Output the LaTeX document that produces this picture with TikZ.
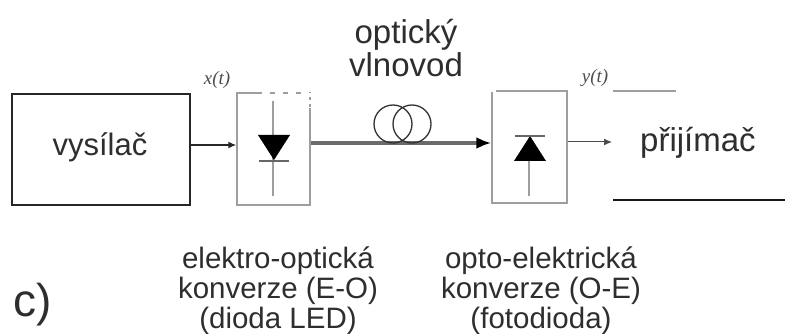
\documentclass[tikz,border=0pt]{standalone}
\usepackage{fontspec}
\setmainfont{Liberation Sans}
\newfontfamily\sigfont{Liberation Serif}
\usetikzlibrary{arrows.meta}
\definecolor{boxgray}{gray}{0.62}
\definecolor{fibgray}{gray}{0.42}
\definecolor{txt}{gray}{0.18}
\tikzset{x=1pt,y=-1pt,
 lbl/.style={text=txt,font=\fontsize{31}{33}\selectfont,align=center,inner sep=0pt},
 bigl/.style={text=txt,font=\fontsize{33}{33}\selectfont,align=center,inner sep=0pt},
 captext/.style={text=txt,font=\fontsize{29.5}{30}\selectfont,align=center,inner sep=0pt},
 sig/.style={text=black!70,font=\fontsize{19}{19}\sigfont\itshape,inner sep=0pt},
 blockbox/.style={draw=black!85,line width=1.6pt,minimum width=178pt,minimum height=111pt,inner sep=0pt},
 convbox/.style={draw=boxgray,line width=1.5pt,inner sep=0pt},
 arr/.style={-{Latex[length=8pt,width=7pt]}},
 fibarr/.style={-{Latex[length=15pt,width=12pt,black]}},
}
\begin{document}
\begin{tikzpicture}
\useasboundingbox (0,0) rectangle (785,334);
\node[blockbox] (tx) at (101,149.5) {};
\node[lbl] (txt) at (100,147) {vysílač};
\node[convbox,minimum width=73pt,minimum height=112pt] (eo) at (273.5,149) {};
\node[convbox,minimum width=75pt,minimum height=112pt] (oe) at (529.5,147) {};
\draw[white,line width=2pt,dash pattern=on 8pt off 5pt] (262,93) -- (312,93);
\draw[white,line width=2pt,dash pattern=on 4pt off 3pt] (310,93) -- (310,108);
\draw[white,line width=2pt] (490,91) -- (496,91);
\node[bigl] (rx) at (698,143) {přijímač};
\node[bigl] (fib) at (406,48) {optický\\vlnovod};
\node[sig] (xt) at (217,80) {x(t)};
\node[sig] (yt) at (595,78) {y(t)};
\node[captext] (c1) at (278,291) {elektro-optická\\konverze (E-O)\\(dioda LED)};
\node[captext] (c2) at (541,291) {opto-elektrická\\konverze (O-E)\\(fotodioda)};
\node[font=\fontsize{46}{46}\selectfont,text=txt,inner sep=0pt] (cc) at (33,305) {c)};
% connectors
\draw[arr,black!85,line width=1.3pt] (tx.east|-0,145) -- (eo.west|-0,145);
\draw[fibarr,fibgray,line width=3.2pt] (eo.east|-0,143) -- (oe.west|-0,143);
\coordinate (rxin) at (612,142);
\draw[arr,black!70,line width=1pt] (oe.east|-0,142) -- (rxin);
% fibre coil
\draw[black!80,line width=1.3pt] (393,124) circle (19) (412,124) circle (19);
% diodes
\draw[boxgray,line width=1.2pt] (273,101) -- (273,196);
\fill[black] (258,135) -- (290,135) -- (274,160) -- cycle;
\draw[black!60,line width=2pt] (259,161) -- (289,161);
\draw[boxgray,line width=1.2pt] (529,160) -- (529,196);
\fill[black] (514,161) -- (546,161) -- (530,136) -- cycle;
\draw[black!60,line width=1.2pt] (515,136) -- (545,136);
% receiver fragments
\coordinate (rt1) at (613,91); \coordinate (rt2) at (676,91);
\coordinate (rb1) at (613,200); \coordinate (rb2) at (785,200);
\draw[boxgray,line width=1.2pt] (rt1) -- (rt2);
\draw[black!90,line width=1.6pt] (rb1) -- (rb2);
\end{tikzpicture}
\end{document}
